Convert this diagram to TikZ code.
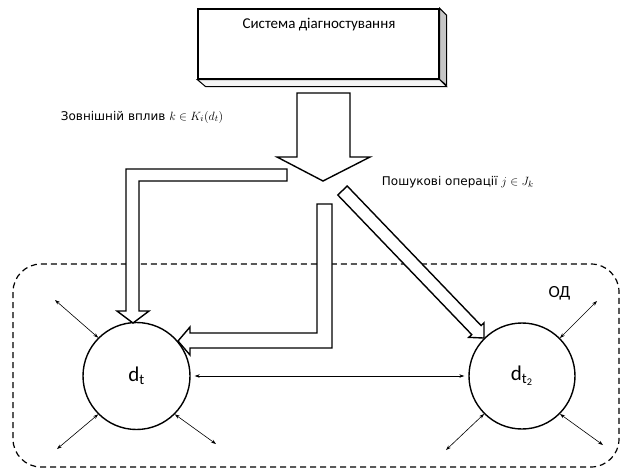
\documentclass[tikz,border=0pt]{standalone}
\usepackage{fontspec}
\setmainfont{Carlito}
\newfontfamily\labelfont{DejaVu Sans}
\usetikzlibrary{arrows.meta,calc}
\tikzset{
  fatarrow/.style={draw=black, line width=1.4pt, fill=white, line join=miter},
  thinarrow/.style={line width=0.6pt, {Stealth[length=5pt,width=3.5pt]}-{Stealth[length=5pt,width=3.5pt]}},
  statecircle/.style={circle, draw=black, line width=1.4pt, minimum size=107pt, inner sep=0pt, font=\fontsize{21}{23}\selectfont},
  labeltext/.style={inner sep=0.75pt, font=\labelfont\fontsize{12}{14}\selectfont},
  sysbox/.style={draw=black, line width=1.3pt, fill=white, minimum width=241pt, minimum height=70pt, inner sep=0pt},
}

\begin{document}
\begin{tikzpicture}[x=1pt,y=1pt,yscale=-1,xscale=1]
\useasboundingbox (0,0) rectangle (621,469);

%Shape: Rounded Rect [object boundary]
\draw [line width=1.2pt, dash pattern={on 6pt off 4pt}, rounded corners=28pt] (13,264) rectangle (619,467);

%Shape: Box with depth
\node [sysbox] (sys) at (318.5,44) {};
\filldraw [fill=gray!45, line width=1pt] (sys.north east) -- ++(7,7) -- ++(0,70) -- (sys.south east) -- cycle;
\filldraw [fill=gray!8, line width=1pt] (sys.south west) -- (sys.south east) -- ++(7,7) -- ++(-241,0) -- cycle;
% Text Node
\node [font=\fontsize{15}{17}\selectfont] (syslabel) at (319,25) {Система діагностування};

%Shape: Circle
\node [statecircle] (dt) at (136.5,376) {d\textsubscript{t}};
%Shape: Circle
\node [statecircle, minimum size=106pt] (dt2) at (522,376) {d\textsubscript{t\textsubscript{2}}};

%Shape: Down Arrow
\draw [fatarrow] (297,93) -- (350,93) -- (350,157) -- (370,157) -- (323,181) -- (277,157) -- (297,157) -- cycle;
%Shape: Bent Arrow (left)
\draw [fatarrow] (287,169) -- (126,169) -- (126,311) -- (117,311) -- (133,323) -- (149,311) -- (139,311) -- (139,181) -- (287,181) -- cycle;
%Shape: Bent Arrow (right)
\draw [fatarrow] (317,204) -- (332,204) -- (332,348) -- (190,348) -- (190,355) -- (178,341) -- (190,327) -- (190,333) -- (317,333) -- cycle;
%Shape: Diagonal Arrow
\coordinate (diagstart) at (342.5,190.5);
\coordinate (diagtip) at (dt2.135);
\coordinate (diaghead) at ($(diagtip)!11pt!(diagstart)$);
\draw [fatarrow] ($(diagstart)!6.5pt!90:(diagtip)$) -- ($(diaghead)!6.5pt!90:(diagtip)$) -- ($(diaghead)!10.5pt!90:(diagtip)$) -- (diagtip) -- ($(diaghead)!10.5pt!-90:(diagtip)$) -- ($(diaghead)!6.5pt!-90:(diagtip)$) -- ($(diagstart)!6.5pt!-90:(diagtip)$) -- cycle;

%Straight Lines [between states]
\draw [thinarrow, shorten <=4pt, shorten >=4pt] (dt.east) -- (dt2.west);
%Straight Lines [around d_t]
\coordinate (dtnw) at (55,300);
\coordinate (dtsw) at (57,449);
\coordinate (dtse) at (216,444);
\draw [thinarrow] (dtnw) -- (dt.135);
\draw [thinarrow] (dtsw) -- (dt.225);
\draw [thinarrow] (dtse) -- (dt.315);
%Straight Lines [around d_t2]
\coordinate (dttne) at (597,301);
\coordinate (dttsw) at (446,450);
\coordinate (dttse) at (603,445);
\draw [thinarrow] (dttne) -- (dt2.45);
\draw [thinarrow] (dttsw) -- (dt2.225);
\draw [thinarrow] (dttse) -- (dt2.315);

% Text Node
\node [labeltext, anchor=west] (extlabel) at (60,117) {Зовнішній вплив {\fontsize{13}{15}\selectfont$k \in K_i(d_t)$}};
% Text Node
\node [labeltext, anchor=west] (searchlabel) at (381,182) {Пошукові операції {\fontsize{13}{15}\selectfont$j \in J_k$}};
% Text Node
\node [font=\fontsize{17}{19}\selectfont] (odlabel) at (559.5,293) {ОД};

\end{tikzpicture}
\end{document}
